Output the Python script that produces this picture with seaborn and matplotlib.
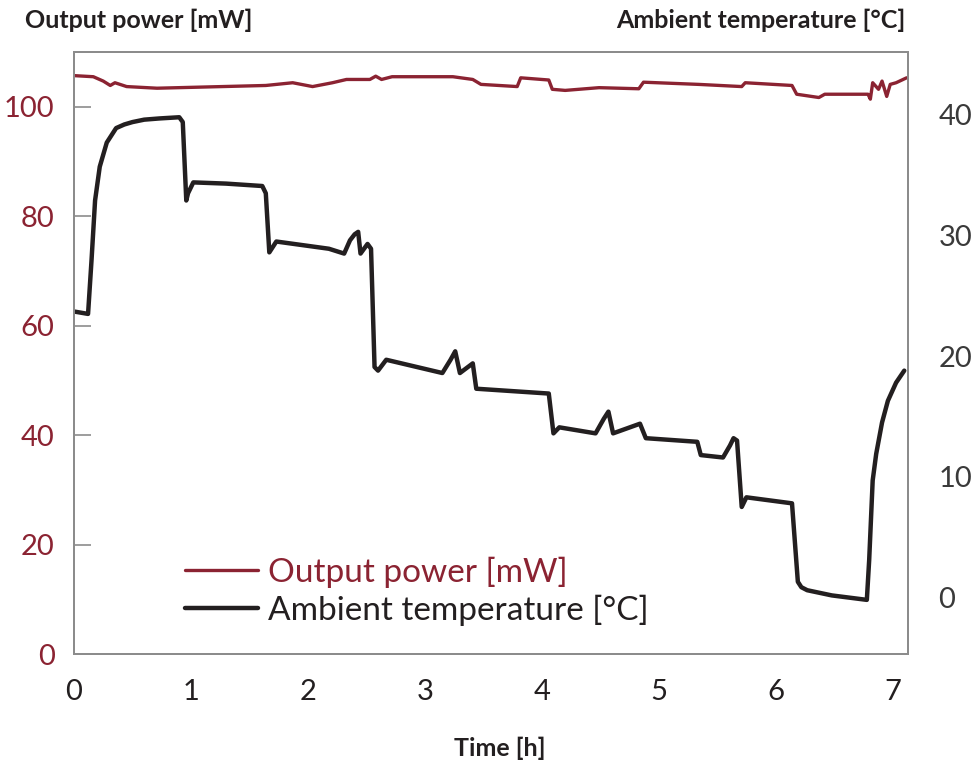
import matplotlib
matplotlib.use("Agg")
import matplotlib.pyplot as plt
import seaborn as sns
import pandas as pd

# output power readings (left axis)
power_time = [0.0, 0.165, 0.25, 0.31, 0.35, 0.45, 0.71, 1.08, 1.64, 1.87, 2.04, 2.21,
              2.33, 2.53, 2.58, 2.63, 2.72, 3.24, 3.41, 3.48, 3.79, 3.82, 4.06, 4.09,
              4.20, 4.49, 4.83, 4.87, 5.34, 5.71, 5.74, 6.14, 6.18, 6.37, 6.42, 6.79,
              6.81, 6.83, 6.88, 6.91, 6.95, 6.98, 7.03, 7.12]
power_mw = [105.7, 105.5, 104.7, 103.9, 104.4, 103.7, 103.4, 103.6, 103.9, 104.4, 103.7, 104.4,
            105.0, 105.0, 105.6, 105.0, 105.5, 105.5, 105.0, 104.1, 103.7, 105.3, 104.9, 103.2,
            103.0, 103.5, 103.3, 104.5, 104.1, 103.7, 104.4, 103.9, 102.3, 101.7, 102.3, 102.3,
            101.4, 104.4, 103.2, 104.7, 101.9, 104.1, 104.4, 105.3]

# ambient temperature readings (right axis)
temp_time = [0.0, 0.12, 0.15, 0.18, 0.22, 0.28, 0.36, 0.43, 0.50, 0.60, 0.73, 0.90, 0.93, 0.96,
             0.975, 1.02, 1.30, 1.61, 1.64, 1.67, 1.73, 2.18, 2.31, 2.36, 2.40, 2.43, 2.45,
             2.51, 2.54, 2.57, 2.60, 2.67, 3.15, 3.22, 3.26, 3.30, 3.41, 3.44, 4.06, 4.10,
             4.15, 4.46, 4.53, 4.57, 4.61, 4.84, 4.89, 5.33, 5.36, 5.55, 5.61, 5.64, 5.67, 5.71,
             5.75, 6.14, 6.19, 6.22, 6.27, 6.48, 6.78, 6.80, 6.83, 6.86, 6.91, 6.96, 7.03, 7.10]
temp_c = [23.7, 23.5, 28.0, 32.9, 35.7, 37.7, 38.9, 39.2, 39.4, 39.6, 39.7, 39.8, 39.4, 32.9,
          33.5, 34.4, 34.3, 34.1, 33.5, 28.6, 29.5, 28.9, 28.5, 29.6, 30.1, 30.3, 28.5,
          29.3, 28.9, 19.1, 18.8, 19.7, 18.6, 19.7, 20.4, 18.6, 19.4, 17.3, 16.9, 13.6,
          14.1, 13.6, 14.8, 15.4, 13.6, 14.4, 13.2, 12.9, 11.8, 11.6, 12.6, 13.2, 13.0, 7.5,
          8.3, 7.8, 1.3, 0.85, 0.6, 0.17, -0.2, 3.1, 9.7, 11.9, 14.5, 16.3, 17.8, 18.8]

x_ticks = [0, 1, 2, 3, 4, 5, 6, 7]
power_ticks = [0, 20, 40, 60, 80, 100]
temp_ticks = [0, 10, 20, 30, 40]

red = "#8B2332"
black = "#231F20"
spine_gray = "#8C8C8C"

sns.set_style("white")
plt.rcParams["font.family"] = ["Lato", "DejaVu Sans"]

power_df = pd.DataFrame({"time": power_time, "power": power_mw})
temp_df = pd.DataFrame({"time": temp_time, "temp": temp_c})

fig = plt.figure(figsize=(9.74, 7.66), dpi=100)
ax = fig.add_axes([0.076, 0.146, 0.856, 0.786])
ax2 = ax.twinx()

sns.lineplot(data=power_df, x="time", y="power", ax=ax, color=red, linewidth=2.4,
             label="Output power [mW]", legend=False)
sns.lineplot(data=temp_df, x="time", y="temp", ax=ax2, color=black, linewidth=3.2,
             label="Ambient temperature [°C]", legend=False)

ax.set_xlim(0, 7.13)
ax.set_ylim(0, 110)
ax2.set_ylim(-4.7, 45.2)
ax.set_xticks(x_ticks)
ax.set_yticks(power_ticks)
ax2.set_yticks(temp_ticks)

for a in (ax, ax2):
    for s in a.spines.values():
        s.set_color(spine_gray)
        s.set_linewidth(1.4)
        s.set_visible(True)

ax.tick_params(axis="y", direction="in", length=12, width=1.2, color=spine_gray,
               labelsize=21, labelcolor=red, pad=14)
ax.tick_params(axis="x", direction="in", length=12, width=1.2, color=spine_gray,
               labelsize=21, labelcolor=black, pad=18)
ax2.tick_params(axis="y", length=0, labelsize=21, labelcolor="#3a3a3a", pad=22)

ax.set_xlabel("")
ax.set_ylabel("")
ax2.set_ylabel("")

fig.text(25 / 974, 1 - 20 / 766, "Output power [mW]", fontsize=18, fontweight="bold",
         color=black, ha="left", va="center")
fig.text(906 / 974, 1 - 20 / 766, "Ambient temperature [°C]", fontsize=18, fontweight="bold",
         color=black, ha="right", va="center")
fig.text(500 / 974, 1 - 748 / 766, "Time [h]", fontsize=18, fontweight="bold",
         color=black, ha="center", va="center")

handles = ax.get_lines() + ax2.get_lines()
labels = [h.get_label() for h in handles]
ax.legend(handles, labels, loc="center left", bbox_to_anchor=(0.133, 0.105),
          frameon=False, fontsize=24, handlelength=2.2, handletextpad=0.3,
          labelspacing=0.2, borderpad=0, borderaxespad=0, labelcolor="linecolor")

fig.savefig("out.png", dpi=100)
